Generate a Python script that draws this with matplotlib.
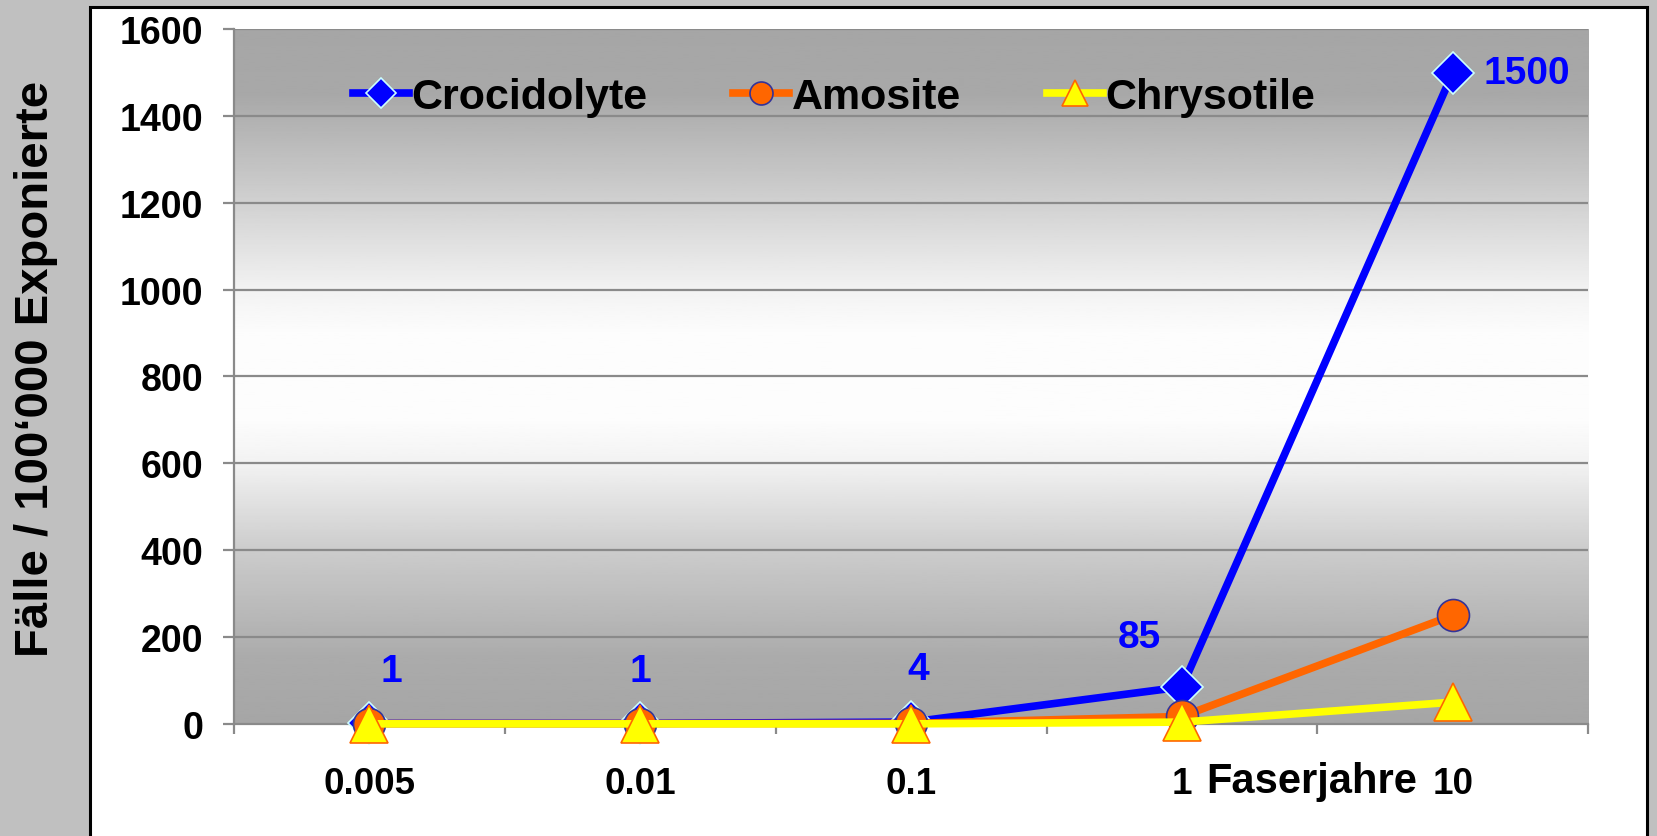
import numpy as np
import matplotlib.pyplot as plt
from matplotlib.patches import Rectangle
from matplotlib.transforms import blended_transform_factory

plt.rcParams['font.family'] = ['Liberation Sans', 'DejaVu Sans']
plt.rcParams['font.weight'] = 'bold'

# data
categories = ['0.005', '0.01', '0.1', '1', '10']
crocidolyte = [1, 1, 4, 85, 1500]
amosite = [0.5, 0.5, 1, 17, 250]
chrysotile = [0, 0, 0, 4, 50]
croc_labels = ['1', '1', '4', '85', '1500']
yticks = [0, 200, 400, 600, 800, 1000, 1200, 1400, 1600]

fig = plt.figure(figsize=(16.58, 8.37), dpi=100)
fig.patch.set_facecolor('#c0c0c0')
fig.patches.append(Rectangle((0.0543, -0.01), 0.939, 1.0, transform=fig.transFigure,
                             facecolor='white', edgecolor='black', linewidth=2.2,
                             zorder=-10))

ax = fig.add_axes([0.141, 0.134, 0.817, 0.830])
x = np.arange(len(categories))
ax.set_xlim(-0.5, len(categories) - 0.5)
ax.set_ylim(0, 1600)

# gradient background: gray at top and bottom, white in the middle
gy = np.linspace(0, 1600, 400)
gv = np.interp(gy, [0, 150, 400, 600, 700, 900, 1000, 1200, 1450, 1600],
               [0.65, 0.67, 0.80, 0.95, 0.99, 0.99, 0.95, 0.82, 0.66, 0.65])
ax.imshow(gv[:, None], cmap='gray', vmin=0, vmax=1, origin='lower', aspect='auto',
          extent=(-0.5, len(categories) - 0.5, 0, 1600), zorder=0)

for v in yticks[1:]:
    ax.axhline(v, color='#8a8a8a', lw=1.6, zorder=1)

ax.plot(x, crocidolyte, color='#0000ff', lw=5.5, marker='D', ms=21,
        mfc='#0000ff', mec='#ccffff', mew=1.2, zorder=3, label='Crocidolyte',
        clip_on=False)
ax.plot(x, amosite, color='#ff6600', lw=5.5, marker='o', ms=23,
        mfc='#ff6600', mec='#333399', mew=1.2, zorder=4, label='Amosite',
        clip_on=False)
ax.plot(x, chrysotile, color='#ffff00', lw=5.5, marker='^', ms=27,
        mfc='#ffff00', mec='#ff6600', mew=1.2, zorder=5, label='Chrysotile',
        clip_on=False)

offsets = [(16, 38), (0, 38), (5, 38), (-31, 36), (53, 0)]
for xi, yi, lab, off in zip(x, crocidolyte, croc_labels, offsets):
    ax.annotate(lab, (xi, yi), xytext=off, textcoords='offset points',
                ha='center', va='center', color='#0000ff', fontsize=28,
                fontweight='bold', zorder=6)

ax.set_yticks(yticks)
ax.set_yticklabels([str(v) for v in yticks], fontsize=27, fontweight='bold')
ax.set_xticks(x)
ax.set_xticklabels(categories, fontsize=26.5, fontweight='bold')
ax.set_xticks(np.arange(-0.5, len(categories)), minor=True)
ax.tick_params(axis='x', which='major', length=0, pad=30)
ax.tick_params(axis='x', which='minor', length=7, width=1.6, color='#8a8a8a')
ax.tick_params(axis='y', length=8, width=1.6, color='#8a8a8a', pad=14)

for s in ['top', 'right']:
    ax.spines[s].set_visible(False)
for s in ['left', 'bottom']:
    ax.spines[s].set_color('#8a8a8a')
    ax.spines[s].set_linewidth(1.6)

trans = blended_transform_factory(ax.transData, ax.transAxes)
ax.text(3.48, -0.082, 'Faserjahre', transform=trans, ha='center', va='center',
        fontsize=30, fontweight='bold')

fig.text(0.022, 0.559, 'Fälle / 100‘000 Exponierte', rotation=90, ha='center',
         va='center', fontsize=34, fontweight='bold')

ax.legend(loc='center', bbox_to_anchor=(0.443, 0.902), ncol=3, frameon=False,
          fontsize=31, handlelength=1.3, handletextpad=0.05, columnspacing=2.0,
          markerscale=0.72)

fig.savefig('out.png', dpi=100, facecolor=fig.get_facecolor())
